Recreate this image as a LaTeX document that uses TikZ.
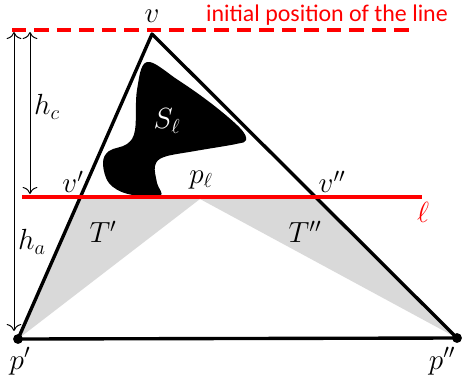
\documentclass[tikz,border=0pt]{standalone}
\usepackage{fontspec}
\newfontfamily\notefont{Carlito}
\usepackage{tikz}
\usetikzlibrary{calc,arrows.meta}
\definecolor{shadegray}{RGB}{217,217,217}

\begin{document}
\begin{tikzpicture}[x=0.025cm,y=-0.025cm,
  lbl/.style={font=\huge},
  side/.style={line width=2.4pt,line join=round},
  sweep/.style={red,line width=2.4pt},
  dim/.style={{To[length=5pt]}-{To[length=5pt]},line width=0.7pt},
  pt/.style={circle,fill=black,inner sep=0pt,minimum size=7pt}]
  \useasboundingbox (0,0) rectangle (467,383);
  % vertices of the triangle
  \coordinate (v)  at (152,34);
  \coordinate (p1) at (18,339);
  \coordinate (p2) at (457,338);
  \coordinate (v1) at ($(v)!0.534!(p1)$);
  \coordinate (v2) at ($(v)!0.536!(p2)$);
  \coordinate (pl) at (200,199);
  \coordinate (l1) at (22,197);
  \coordinate (l2) at (422,197);
  \coordinate (d1) at (12,30);
  \coordinate (d2) at (413,30);
  % shaded triangles
  \fill[shadegray] (v1) -- (v2) -- (p2) -- (pl) -- (p1) -- cycle;
  % the set S_l
  \fill[black] plot[smooth cycle,tension=0.6] coordinates {
    (147,62) (178,80) (212,104) (240,128) (246,140) (236,144) (195,151)
    (164,157) (155,166) (157,183) (160,196) (128,194) (109,183) (103,163)
    (109,151) (127,144) (135,130) (137,90)};
  \node[lbl,text=white] (sl) at (167,121) {$S_\ell$};
  % triangle
  \draw[side] (v) -- (p1) -- (p2) -- cycle;
  % sweep line and its start
  \draw[sweep] (l1) -- (l2);
  \draw[sweep,dash pattern=on 10pt off 6pt] (d1) -- (d2);
  \node[red,font=\notefont\fontsize{17}{20}\selectfont] (init) at (327,15) {initial position of the line};
  \node[lbl,text=red] (ell) at (423,212) {$\ell$};
  % heights
  \coordinate (ha1) at (14,32);
  \coordinate (ha2) at (14,331);
  \coordinate (hc1) at (30,32);
  \coordinate (hc2) at (30,194);
  \draw[dim] (ha1) -- (ha2);
  \draw[dim] (hc1) -- (hc2);
  \node[lbl] (hc) at (47,107) {$h_c$};
  \node[lbl] (ha) at (32,242) {$h_a$};
  % points and labels
  \node[pt] (q1) at (p1) {};
  \node[pt] (q2) at (p2) {};
  \node[lbl,inner sep=0pt] (lv) at (152,16) {$v$};
  \node[lbl] (lv1) at (73,182)  {$v'$};
  \node[lbl] (lv2) at (332,182) {$v''$};
  \node[lbl] (lpl) at (201,180) {$p_\ell$};
  \node[lbl] (t1)  at (103,232) {$T'$};
  \node[lbl] (t2)  at (305,232) {$T''$};
  \node[lbl] (lp1) at (20,361)  {$p'$};
  \node[lbl] (lp2) at (442,361) {$p''$};
\end{tikzpicture}
\end{document}
